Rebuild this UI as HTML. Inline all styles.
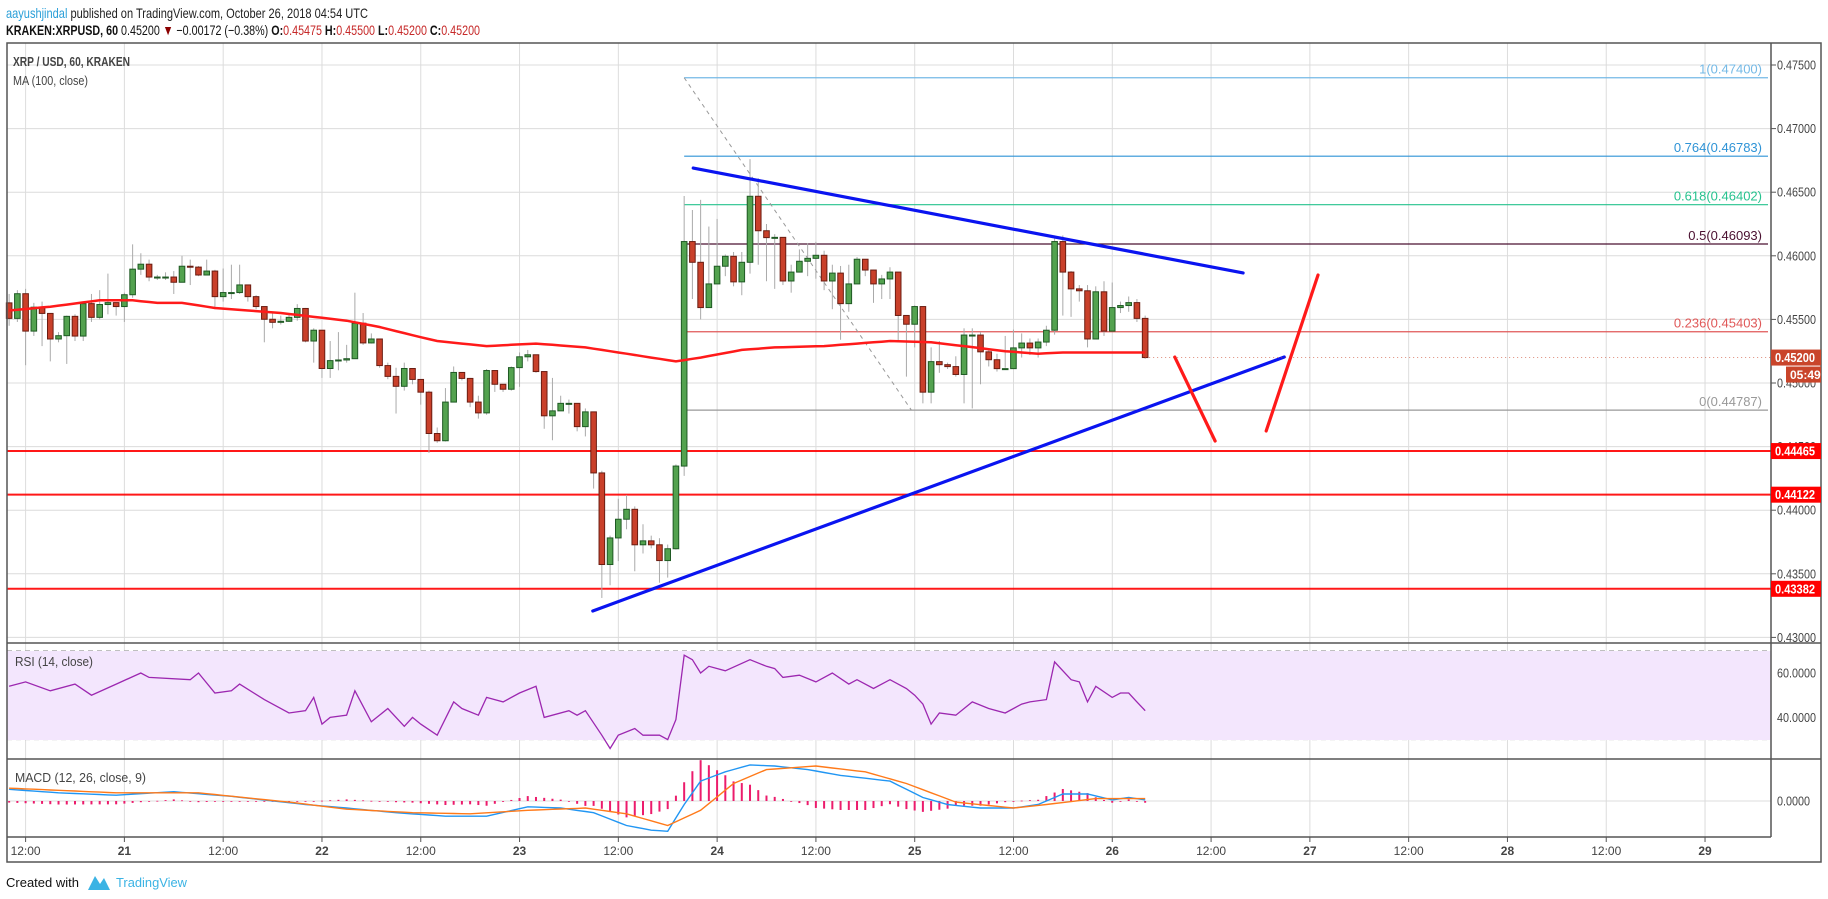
<!DOCTYPE html>
<html><head><meta charset="utf-8"><style>
html,body{margin:0;padding:0;background:#fff;}
svg{display:block;font-family:"Liberation Sans",sans-serif;}
</style></head><body>
<svg id="c" width="1828" height="899" viewBox="0 0 1828 899" xmlns="http://www.w3.org/2000/svg">
<text x="6" y="18" font-size="14" textLength="362" lengthAdjust="spacingAndGlyphs"><tspan fill="#2a9fd8">aayushjindal</tspan><tspan fill="#222"> published on TradingView.com, October 26, 2018 04:54 UTC</tspan></text>
<text x="6" y="35" font-size="14" textLength="474" lengthAdjust="spacingAndGlyphs" fill="#111"><tspan font-weight="bold">KRAKEN:XRPUSD, 60</tspan> 0.45200 <tspan fill="#8b0000">▼</tspan> −0.00172 (−0.38%) <tspan font-weight="bold">O:</tspan><tspan fill="#c62828">0.45475</tspan> <tspan font-weight="bold">H:</tspan><tspan fill="#c62828">0.45500</tspan> <tspan font-weight="bold">L:</tspan><tspan fill="#c62828">0.45200</tspan> <tspan font-weight="bold">C:</tspan><tspan fill="#c62828">0.45200</tspan></text>
<g id="grid"></g>
<rect x="7" y="651" width="1764" height="89" fill="#f3e6fd"/>
<g id="layer"></g>
<g fill="none" stroke="#555" stroke-width="1.5">
<rect x="7" y="43" width="1814" height="819"/>
<line x1="1771" y1="43" x2="1771" y2="837"/>
<line x1="7" y1="643" x2="1821" y2="643"/>
<line x1="7" y1="759" x2="1821" y2="759"/>
<line x1="7" y1="837" x2="1771" y2="837"/>
</g>
<text x="13" y="66" font-size="13" font-weight="bold" fill="#444" textLength="117" lengthAdjust="spacingAndGlyphs">XRP / USD, 60, KRAKEN</text>
<text x="13" y="85" font-size="13" fill="#444" textLength="75" lengthAdjust="spacingAndGlyphs">MA (100, close)</text>
<text x="15" y="666" font-size="13" fill="#444" textLength="78" lengthAdjust="spacingAndGlyphs">RSI (14, close)</text>
<text x="15" y="782" font-size="13" fill="#444" textLength="131" lengthAdjust="spacingAndGlyphs">MACD (12, 26, close, 9)</text>
<g id="axes"></g>
<text x="6" y="887" font-size="13" fill="#111" textLength="73" lengthAdjust="spacingAndGlyphs">Created with</text>
<path d="M88 890 L95 876 L100 884 L104 878 L110 890 Z" fill="#3bb3e4"/>
<text x="116" y="887" font-size="13" fill="#3bb3e4" textLength="71" lengthAdjust="spacingAndGlyphs">TradingView</text>
</svg>
<script>
const firstOpen = 0.4563;
const closes = [0.45508,0.45702,0.45408,0.45596,0.45547,0.45346,0.45372,0.45524,0.45369,0.45624,0.45516,0.45617,0.45632,0.45601,0.45694,0.45895,0.45934,0.45833,0.45833,0.45833,0.45792,0.45918,0.45911,0.45849,0.45880,0.45679,0.45711,0.45711,0.45771,0.45679,0.45601,0.45501,0.45477,0.45485,0.45516,0.45586,0.45330,0.45415,0.45114,0.45176,0.45181,0.45191,0.45470,0.45315,0.45346,0.45137,0.45052,0.44974,0.45114,0.45028,0.44928,0.44603,0.44546,0.44850,0.45083,0.45036,0.44850,0.44765,0.45098,0.44990,0.44951,0.45121,0.45206,0.45222,0.45090,0.44742,0.44781,0.44840,0.44840,0.44657,0.44773,0.44293,0.43573,0.43782,0.43929,0.44007,0.43728,0.43759,0.43728,0.43604,0.43697,0.44347,0.46112,0.45949,0.45593,0.45779,0.45918,0.45996,0.45795,0.45949,0.46468,0.46197,0.46143,0.46145,0.45802,0.45872,0.45957,0.45980,0.46004,0.45802,0.45864,0.45624,0.45779,0.45973,0.45888,0.45779,0.45818,0.45872,0.45531,0.45462,0.45601,0.44928,0.45168,0.45144,0.45129,0.45067,0.45377,0.45377,0.45245,0.45183,0.45113,0.45113,0.45276,0.45314,0.45276,0.45322,0.45415,0.46112,0.45872,0.45740,0.45725,0.45346,0.45717,0.45408,0.45593,0.45609,0.45632,0.45508,0.45200];
const highs = [0.4570,0.4573,0.4574,0.4563,0.4564,0.4545,0.4540,0.4553,0.4554,0.4564,0.4570,0.4573,0.4586,0.4563,0.4571,0.4609,0.4602,0.4597,0.4585,0.4587,0.4588,0.4600,0.4597,0.4592,0.4597,0.4589,0.4590,0.4593,0.4593,0.4577,0.4569,0.4560,0.4556,0.4553,0.4555,0.4562,0.4559,0.4543,0.4533,0.4533,0.4540,0.4530,0.4571,0.4555,0.4539,0.4534,0.4516,0.4512,0.4516,0.4509,0.4503,0.4494,0.4465,0.4496,0.4513,0.4508,0.4504,0.4490,0.4511,0.4510,0.4499,0.4513,0.4524,0.4526,0.4512,0.4504,0.4504,0.4490,0.4487,0.4484,0.4480,0.4477,0.4431,0.4380,0.4409,0.4412,0.4403,0.4389,0.4380,0.4378,0.4373,0.4436,0.4647,0.4636,0.4644,0.4623,0.4629,0.4601,0.4603,0.4603,0.4676,0.4661,0.4625,0.4617,0.4607,0.4593,0.4605,0.4610,0.4611,0.4604,0.4593,0.4592,0.4593,0.4599,0.4597,0.4589,0.4585,0.4591,0.4587,0.4553,0.4561,0.4560,0.4528,0.4533,0.4516,0.4521,0.4543,0.4543,0.4540,0.4526,0.4523,0.4537,0.4542,0.4539,0.4535,0.4535,0.4545,0.4616,0.4616,0.4588,0.4577,0.4577,0.4576,0.4580,0.4579,0.4564,0.4568,0.4566,0.4553];
const lows = [0.4545,0.4548,0.4514,0.4537,0.4529,0.4517,0.4532,0.4515,0.4533,0.4533,0.4548,0.4550,0.4554,0.4553,0.4548,0.4567,0.4585,0.4580,0.4581,0.4581,0.4570,0.4579,0.4577,0.4584,0.4585,0.4558,0.4564,0.4566,0.4570,0.4564,0.4558,0.4532,0.4543,0.4546,0.4548,0.4549,0.4532,0.4516,0.4504,0.4504,0.4510,0.4516,0.4519,0.4530,0.4531,0.4512,0.4503,0.4476,0.4494,0.4499,0.4483,0.4445,0.4453,0.4454,0.4502,0.4502,0.4481,0.4472,0.4475,0.4493,0.4493,0.4494,0.4497,0.4517,0.4508,0.4464,0.4455,0.4482,0.4476,0.4462,0.4458,0.4417,0.4331,0.4341,0.4360,0.4385,0.4352,0.4366,0.4370,0.4343,0.4347,0.4369,0.4427,0.4566,0.4550,0.4575,0.4585,0.4584,0.4576,0.4569,0.4586,0.4593,0.4580,0.4574,0.4577,0.4571,0.4588,0.4584,0.4582,0.4573,0.4558,0.4534,0.4556,0.4580,0.4584,0.4563,0.4566,0.4566,0.4533,0.4505,0.4528,0.4484,0.4484,0.4508,0.4511,0.4505,0.4484,0.4480,0.4499,0.4513,0.4509,0.4512,0.4515,0.4520,0.4522,0.4520,0.4529,0.4538,0.4553,0.4552,0.4564,0.4528,0.4535,0.4537,0.4541,0.4555,0.4556,0.4548,0.4519];
const maIdx = [0,5,11,15,18,21,25,29,33,37,41,45,50,52,58,64,70,76,81,84,89,93,99,107,112,116,121,125,128,138];
const maVal = [0.4557,0.4560,0.4565,0.4565,0.4563,0.4563,0.4559,0.4557,0.4555,0.4552,0.4549,0.4544,0.4536,0.4533,0.4529,0.4531,0.4528,0.4522,0.4517,0.4520,0.4526,0.4528,0.4529,0.4533,0.4532,0.4529,0.4525,0.4523,0.4524,0.4524];
const rsiIdx = [0,2,5,8,10,13,16,17,22,23,25,27,28,31,34,36,37,38,39,41,42,44,46,48,49,50,52,54,55,57,58,60,62,64,65,68,69,70,72,73,74,76,77,79,80,81,82,83,84,85,87,90,92,93,94,96,98,100,102,103,105,107,109,110,111,112,113,115,117,119,121,123,124,126,127,129,130,131,132,134,135,136,137,138];
const rsiVal = [54,56,52,55,50,55,60,58,57,60,51,52,55,48,42,43,49,37,40,41,52,38,44,36,40,37,32,47,44,41,49,47,51,54,40,43,41,43,32,26,32,35,32,32,30,39,68,66,60,63,61,66,63,62,58,59,56,60,55,57,53,57,53,50,46,37,42,41,47,44,42,46,47,48,65,57,56,47,54,49,51,51,47,43];
const macdIdx = [0,6,13,20,27,36,41,47,53,58,63,67,71,75,78,80,82,84,87,90,93,97,101,107,111,114,118,122,125,128,131,134,136,138];
const macdVal = [1.23,0.86,0.61,0.98,0.49,-0.37,-0.74,-1.23,-1.6,-1.6,-0.61,-0.74,-1.23,-2.58,-3.07,-3.19,-0.37,2.09,3.07,3.8,3.68,3.31,2.7,2.09,0.37,-0.37,-0.74,-0.74,-0.37,0.74,0.74,0.12,0.37,0.12];
const sigIdx = [0,13,23,34,41,49,56,63,70,75,80,84,88,92,98,104,109,115,122,126,132,138];
const sigVal = [1.35,0.86,0.86,-0.12,-0.86,-1.23,-1.35,-0.98,-0.74,-1.35,-2.58,-0.98,1.84,3.31,3.68,3.07,1.84,-0.12,-0.74,-0.37,0.25,0.25];
const priceTicks = [0.475,0.470,0.465,0.460,0.455,0.450,0.445,0.440,0.435,0.430];
const timeLabels = ["12:00","21","12:00","22","12:00","23","12:00","24","12:00","25","12:00","26","12:00","27","12:00","28","12:00","29"];
const fibLevels = [1,0.764,0.618,0.5,0.236,0];
const fibPrices = [0.47400,0.46783,0.46402,0.46093,0.45403,0.44787];
const fibColors = ["#74b9e6","#2e93d6","#26c28e","#4a1030","#e05858","#999999"];
const hLevels = [0.44465,0.44122,0.43382];
const fibStart = 82, fibEnd = 109.6;
const upperLine = [[83.1,0.4669],[149.9,0.45865]];
const lowerLine = [[70.9,0.43208],[154.9,0.45204]];
const redLine1 = [[141.6,0.45204],[146.5,0.44544]];
const redLine2 = [[152.7,0.44623],[159.0,0.45849]];

const NS="http://www.w3.org/2000/svg";
const layer=document.getElementById('layer'), grid=document.getElementById('grid'), axes=document.getElementById('axes');
const PL=7, PR=1771;
function y(p){return 65+(0.475-p)/0.005*63.6;}
function x(i){return 25.6+(i-2)*8.232;}
function yr(v){return 673+(60-v)*2.22;}
function ym(v){return 801-v*9.5;}
function el(tag,attrs,parent){const e=document.createElementNS(NS,tag);for(const k in attrs)e.setAttribute(k,attrs[k]);parent.appendChild(e);return e;}
function interp(ix,vs,i){if(i<=ix[0])return vs[0];for(let k=1;k<ix.length;k++){if(i<=ix[k]){const t=(i-ix[k-1])/(ix[k]-ix[k-1]);return vs[k-1]+t*(vs[k]-vs[k-1]);}}return vs[vs.length-1];}

timeLabels.forEach((t,k)=>{const gx=25.6+k*98.79;
 const g=el('line',{x1:gx,y1:43,x2:gx,y2:837,stroke:'#dcdcdc','stroke-width':1},grid);
 
 
 const tk=el('line',{x1:gx,y1:837,x2:gx,y2:842,stroke:'#555'},axes);
 
 
 const tx=el('text',{x:gx,y:855,'font-size':12,fill:'#444','text-anchor':'middle','font-weight':(t.length<3?'bold':'normal')},axes);
 tx.textContent=t;
 
 
});
priceTicks.forEach(p=>{
 const g=el('line',{x1:PL,y1:y(p),x2:PR,y2:y(p),stroke:'#dcdcdc'},grid);
 
 
 const tk=el('line',{x1:PR,y1:y(p),x2:PR+5,y2:y(p),stroke:'#555'},axes);
 
 
 const t=el('text',{x:1777,y:y(p)+4.5,'font-size':12.5,fill:'#444',textLength:39,lengthAdjust:'spacingAndGlyphs'},axes);
 t.textContent=p.toFixed(5);
 
 
});
[60,40].forEach(v=>{
 const g=el('line',{x1:PL,y1:yr(v),x2:PR,y2:yr(v),stroke:'#d0c0dc'},grid);
 
 
 const t=el('text',{x:1777,y:yr(v)+4.5,'font-size':12.5,fill:'#444',textLength:39,lengthAdjust:'spacingAndGlyphs'},axes);
 t.textContent=v.toFixed(4);
 
 
});
[70,30].forEach(v=>{const d=el('line',{x1:PL,y1:yr(v),x2:PR,y2:yr(v),stroke:'#aaa','stroke-dasharray':'5 4'},grid);
 
 });
{const g=el('line',{x1:PL,y1:ym(0),x2:PR,y2:ym(0),stroke:'#dcdcdc'},grid);
 
 
 const t=el('text',{x:1777,y:ym(0)+4.5,'font-size':12.5,fill:'#444',textLength:33,lengthAdjust:'spacingAndGlyphs'},axes);
 t.textContent='0.0000';
 
 }

hLevels.forEach((p,k)=>{
 const l=el('line',{x1:PL,y1:y(p),x2:PR,y2:y(p),stroke:'#ff0000','stroke-width':2,opacity:0.9},layer);
 
 
 const r=el('rect',{x:PR,y:y(p)-8,width:50,height:16,fill:'#ff0000'},axes);
 
 
 const t=el('text',{x:1775,y:y(p)+4.5,'font-size':12.5,'font-weight':'bold',fill:'#fff',textLength:40,lengthAdjust:'spacingAndGlyphs'},axes);
 t.textContent=p.toFixed(5);
 
 
});

fibPrices.forEach((p,k)=>{
 const l=el('line',{x1:x(fibStart),y1:y(p),x2:PR-3,y2:y(p),stroke:fibColors[k],'stroke-width':1.2},layer);
 
 
 const t=el('text',{x:1762,y:y(p)-4,'font-size':13,fill:fibColors[k],'text-anchor':'end'},layer);
 t.textContent=fibLevels[k]+'('+p.toFixed(5)+')';
 
 
});
{const d=el('line',{x1:x(fibStart),y1:y(fibPrices[0]),x2:x(fibEnd),y2:y(fibPrices[5]),stroke:'#999','stroke-dasharray':'4 4'},layer);
 
 }

closes.forEach((c,i)=>{
 const o=i===0?firstOpen:closes[i-1];
 const up=c>=o, cx=x(i);
 const w=el('line',{x1:cx,y1:y(highs[i]),x2:cx,y2:y(lows[i]),stroke:'#aaa','stroke-width':1},layer);
 
 
 const top=y(Math.max(o,c)), bot=y(Math.min(o,c));
 const b=el('rect',{x:cx-2.8,y:top,width:5.6,height:Math.max(1,bot-top),fill:up?'#53a24f':'#c9402a',stroke:up?'#1f5a24':'#6b1d12','stroke-width':1},layer);
 
 
});

{let d='';for(let i=0;i<closes.length;i++){d+=(i?'L':'M')+x(i).toFixed(1)+' '+y(interp(maIdx,maVal,i)).toFixed(1);}
 const p=el('path',{d:d,fill:'none',stroke:'#ff1a1a','stroke-width':2.5},layer);
 
 }

[[upperLine,'#0a14f0','upper-trendline'],[lowerLine,'#0a14f0','lower-trendline'],[redLine1,'#ff1a1a','down-arrow-line'],[redLine2,'#ff1a1a','up-arrow-line']].forEach(([pts,col,name])=>{
 const l=el('line',{x1:x(pts[0][0]),y1:y(pts[0][1]),x2:x(pts[1][0]),y2:y(pts[1][1]),stroke:col,'stroke-width':3.2,'stroke-linecap':'round'},layer);
 
 
});

{const lp=closes[closes.length-1];
 const r=el('rect',{x:PR,y:y(lp)-8,width:50,height:16,fill:'#c9442a'},axes);
 
 
 const t=el('text',{x:1775,y:y(lp)+4.5,'font-size':12.5,'font-weight':'bold',fill:'#fff',textLength:40,lengthAdjust:'spacingAndGlyphs'},axes);
 t.textContent=lp.toFixed(5);
 
 
 const r2=el('rect',{x:1786,y:y(lp)+9,width:35,height:16,fill:'#c9442a'},axes);
 
 
 const t2=el('text',{x:1790,y:y(lp)+21.5,'font-size':12,'font-weight':'bold',fill:'#fff'},axes);
 t2.textContent='05:49';
 
 
 const ll=el('line',{x1:x(closes.length-1),y1:y(lp),x2:PR,y2:y(lp),stroke:'#c9442a','stroke-width':0.6,'stroke-dasharray':'1 3'},layer);
 
 }

{let d='';rsiIdx.forEach((ix,k)=>{d+=(k?'L':'M')+x(ix).toFixed(1)+' '+yr(rsiVal[k]).toFixed(1);});
 const p=el('path',{d:d,fill:'none',stroke:'#9c27b0','stroke-width':1.3},layer);
 
 }

for(let i=0;i<closes.length;i++){
 const h=(interp(macdIdx,macdVal,i)-interp(sigIdx,sigVal,i))*1.4;
 const r=el('rect',{x:x(i)-1,y:Math.min(ym(0),ym(h)),width:2,height:Math.max(0.8,Math.abs(ym(h)-ym(0))),fill:'#ec1c6c'},layer);
 
 
}
[[macdIdx,macdVal,'#2196f3','macd-line'],[sigIdx,sigVal,'#ff7a1a','signal-line']].forEach(([ix,vs,col,name])=>{
 let d='';for(let i=0;i<closes.length;i++){d+=(i?'L':'M')+x(i).toFixed(1)+' '+ym(interp(ix,vs,i)).toFixed(1);}
 const p=el('path',{d:d,fill:'none',stroke:col,'stroke-width':1.4},layer);
 
 
});
</script>
</body></html>
